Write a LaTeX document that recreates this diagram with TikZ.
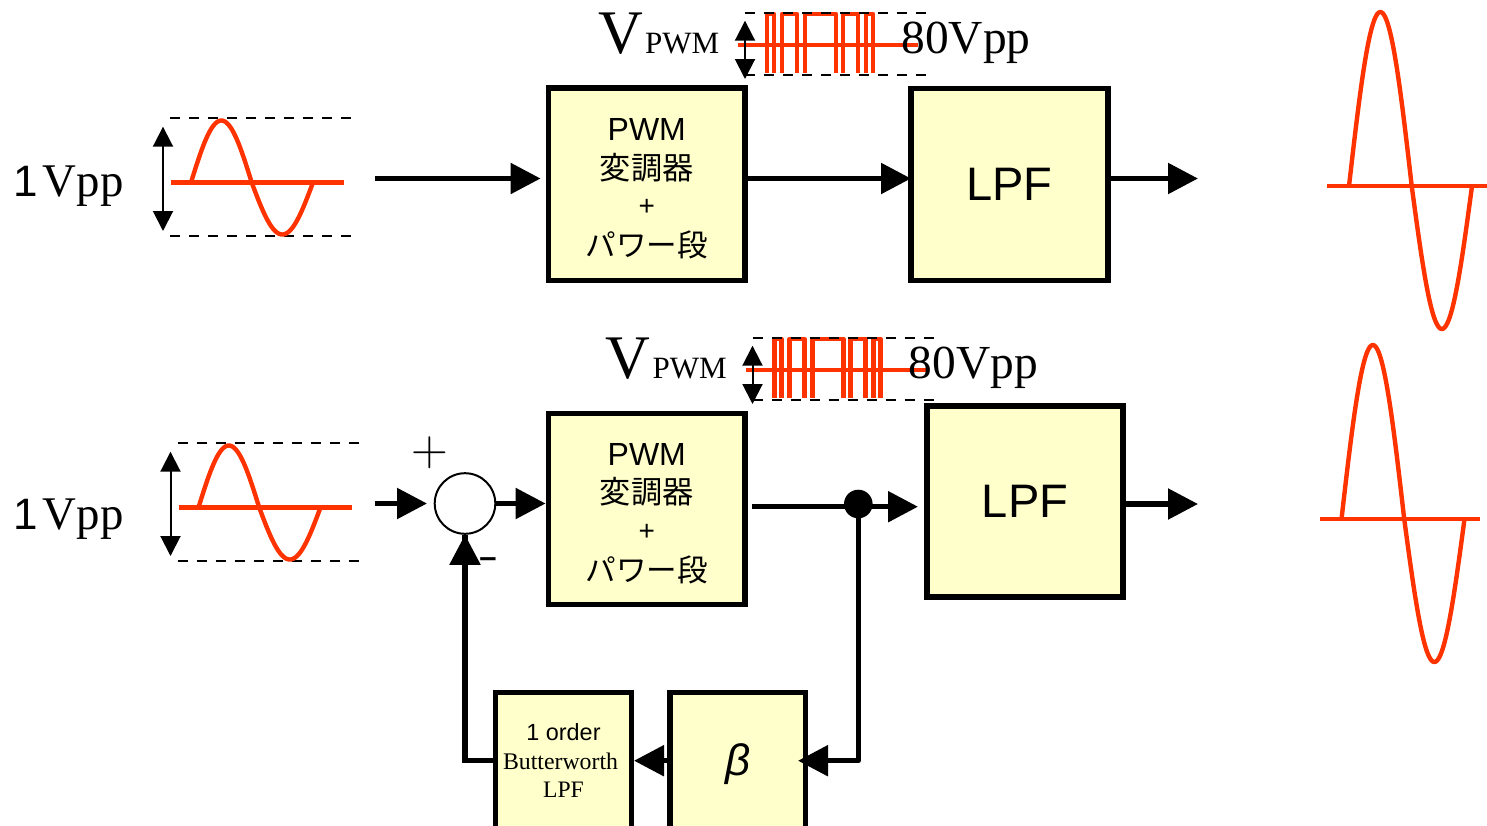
\documentclass[tikz,border=0pt]{standalone}
\usepackage{fontspec}
\usetikzlibrary{arrows.meta,calc}
\newfontfamily\arialf{Liberation Sans}
\newfontfamily\timesf{Liberation Serif}
\newfontfamily\cjkf{Noto Sans CJK JP}
\definecolor{wavered}{HTML}{FF3300}
\definecolor{boxfill}{HTML}{FFFFCC}
\tikzset{
  blockbox/.style={draw=black,line width=2.9pt,fill=boxfill,inner sep=0pt,align=center,text=black},
  pwmtext/.style={font=\fontsize{16}{19.3}\selectfont},
  ordtext/.style={font=\fontsize{12}{14.25}\selectfont},
  conn/.style={line width=2.7pt,draw=black},
  bigarrow/.style={conn,-{Triangle[length=15pt,width=15pt]}},
  redline/.style={draw=wavered,line width=2.2pt,line join=round},
  limit/.style={draw=black,line width=1.2pt,dash pattern=on 5pt off 4.5pt},
  span/.style={draw=black,line width=1pt,{Triangle[length=10pt,width=10pt]}-{Triangle[length=10pt,width=10pt]}},
  lbl/.style={inner sep=0pt,text=black},
}
\newcommand{\sinewave}[6]{%
  \draw[redline] plot[variable=\t,domain=0:180,samples=45,smooth] ({#1+(#2-#1)*\t/180},{#4-#5*sin(\t)});
  \draw[redline] plot[variable=\t,domain=0:180,samples=45,smooth] ({#2+(#3-#2)*\t/180},{#4+#6*sin(\t)});
}
\newcommand{\pulsetrain}{%
  \draw[redline] (767,73) -- (767,14) -- (774,14) -- (774,73);
  \draw[redline] (782,73) -- (782,14) -- (797,14) -- (797,73);
  \draw[redline] (805,73) -- (805,14) -- (836,14) -- (836,73);
  \draw[redline] (843,73) -- (843,14) -- (858,14) -- (858,73);
  \draw[redline] (866,73) -- (866,14) -- (873,14) -- (873,73);
}
\newcommand{\pwmlines}{\rule{0pt}{15.5pt}\arialf\fontsize{16}{19.3}\selectfont PWM\\\cjkf\fontsize{15.6}{19.3}\selectfont 変調器\\\arialf\fontsize{14}{19.3}\selectfont \raisebox{1pt}{+}\\\cjkf\fontsize{15.3}{19.3}\selectfont パワー段}
\begin{document}
\begin{tikzpicture}[x=0.5pt,y=-0.5pt]
\useasboundingbox (0,0) rectangle (1487,825);
\clip (0,0) rectangle (1487,825);

% free ends and levels
\coordinate (in1) at (375,178.5);
\coordinate (lpfatip) at (911,178.5);
\coordinate (out1) at (1198,178.5);
\coordinate (in2) at (375,503.5);
\coordinate (sumin) at (427,503.5);
\coordinate (out2) at (1198,504);
\coordinate (tap) at (752,506.7);
\coordinate (lpfin) at (918,506.7);
\coordinate (betain) at (798,760.7);
\coordinate (corner) at (858.3,760.7);
\coordinate (fbcorner) at (465,760.7);
\coordinate (ordtip) at (634,760.7);

% blocks
\node[blockbox,pwmtext,minimum width=98.25pt,minimum height=96.25pt] (pwma) at (646.75,184.25) {\pwmlines};
\node[blockbox,minimum width=98.5pt,minimum height=96pt] (lpfa) at (1009.5,184.5)
  {\arialf\fontsize{23.5}{28}\selectfont LPF};
\node[blockbox,pwmtext,minimum width=98.25pt,minimum height=95.5pt] (pwmb) at (646.75,509) {\pwmlines};
\node[blockbox,minimum width=98pt,minimum height=95.5pt] (lpfb) at (1025,501.5)
  {\arialf\fontsize{23.5}{28}\selectfont LPF};
\node[blockbox,ordtext,minimum width=68pt,minimum height=68.5pt] (ord) at (563.5,761)
  {\arialf\fontsize{11.7}{14.25}\selectfont 1 order\\\timesf\fontsize{11.9}{14.25}\selectfont Butterworth\kern3pt\\\timesf\fontsize{11.8}{14.25}\selectfont LPF};
\node[blockbox,minimum width=67.75pt,minimum height=68.5pt] (beta) at (737.75,761)
  {\arialf\itshape\fontsize{22}{26}\selectfont\raisebox{-7.2pt}[0pt][0pt]{β}};
\node[draw=black,line width=1pt,fill=white,circle,minimum size=30.3pt,inner sep=0pt] (sum) at (465,503.5) {};
\node[fill=black,circle,minimum size=14.3pt,inner sep=0pt] (dot) at (858.3,504) {};

% upper chain
\draw[bigarrow,shorten >=2.5pt] (in1) -- (pwma.west |- in1);
\draw[bigarrow] (pwma.east |- in1) -- (lpfatip);
\draw[bigarrow] (lpfa.east |- out1) -- (out1);

% lower chain
\draw[bigarrow] (in2) -- (sumin);
\draw[bigarrow] (sum.east) -- (pwmb.west |- sum);
\draw[bigarrow] (tap) -- (lpfin);
\draw[bigarrow] (lpfb.east |- out2) -- (out2);
\draw[conn] (dot.center) -- (corner);
\draw[bigarrow,line cap=round] (corner) -- (betain);
\draw[bigarrow] (beta.west |- ordtip) -- (ordtip);
\draw[conn,line join=miter] (ord.west |- fbcorner) -- (fbcorner) -- (sum.south);
\draw[bigarrow] (fbcorner) -- (sum.south);

% input waves
\draw[limit] (170,118) -- (352,118);
\draw[limit] (170,236) -- (352,236);
\draw[redline] (171,182.5) -- (344,182.5);
\sinewave{191}{251.7}{313}{182.5}{62}{52}
\coordinate (s1a) at (163,126.7); \coordinate (s1b) at (163,231);
\draw[span] (s1a) -- (s1b);
\node[lbl,anchor=base west] (vin1) at (13,196.5) {\fontsize{22}{26}\selectfont{\arialf 1}\kern2.5pt{\timesf\fontsize{23.4}{26}\selectfont Vpp}};
\begin{scope}[shift={(7.5,325)}]
  \draw[limit] (170,118) -- (352,118);
  \draw[limit] (170,236) -- (352,236);
  \draw[redline] (171,182.5) -- (344,182.5);
  \sinewave{191}{251.7}{313}{182.5}{62}{52}
  \coordinate (s2a) at (163,126.7); \coordinate (s2b) at (163,231);
  \draw[span] (s2a) -- (s2b);
\end{scope}
\node[lbl,anchor=base west] (vin2) at (13,529.5) {\fontsize{22}{26}\selectfont{\arialf 1}\kern2.5pt{\timesf\fontsize{23.4}{26}\selectfont Vpp}};

% PWM waves
\draw[redline] (738,45) -- (918,45);
\pulsetrain
\draw[limit] (745,13) -- (926,13);
\draw[limit] (745,75) -- (926,75);
\coordinate (p1a) at (745,20.7); \coordinate (p1b) at (745,79);
\draw[span] (p1a) -- (p1b);
\node[lbl,anchor=base west] (vp1) at (598,53) {\timesf\fontsize{31}{36}\selectfont V\kern1pt\fontsize{15.5}{18}\selectfont PWM};
\node[lbl,anchor=base west] (pp1) at (901,53) {\timesf\fontsize{23.7}{28}\selectfont 80Vpp};
\begin{scope}[shift={(7.5,325)}]
  \draw[redline] (738,45) -- (918,45);
  \pulsetrain
  \draw[limit] (745,13) -- (926,13);
  \draw[limit] (745,75) -- (926,75);
  \coordinate (p2a) at (745,20.7); \coordinate (p2b) at (745,79);
  \draw[span] (p2a) -- (p2b);
  \node[lbl,anchor=base west] (vp2) at (598,53) {\timesf\fontsize{31}{36}\selectfont V\kern1pt\fontsize{15.5}{18}\selectfont PWM};
  \node[lbl,anchor=base west] (pp2) at (901,53) {\timesf\fontsize{23.7}{28}\selectfont 80Vpp};
\end{scope}

% output waves
\draw[redline] (1327,186) -- (1487,186);
\sinewave{1349}{1411.7}{1472}{186}{174}{143}
\draw[redline] (1320,519) -- (1480,519);
\sinewave{1341.5}{1404.2}{1464.5}{519}{174}{143}

% signs
\node[lbl] (plus) at (430,452.5) {\fontsize{25.5}{30}\selectfont +};
\node[lbl] (minus) at (488,563) {\arialf\bfseries\fontsize{15.5}{18}\selectfont –};
\end{tikzpicture}
\end{document}
